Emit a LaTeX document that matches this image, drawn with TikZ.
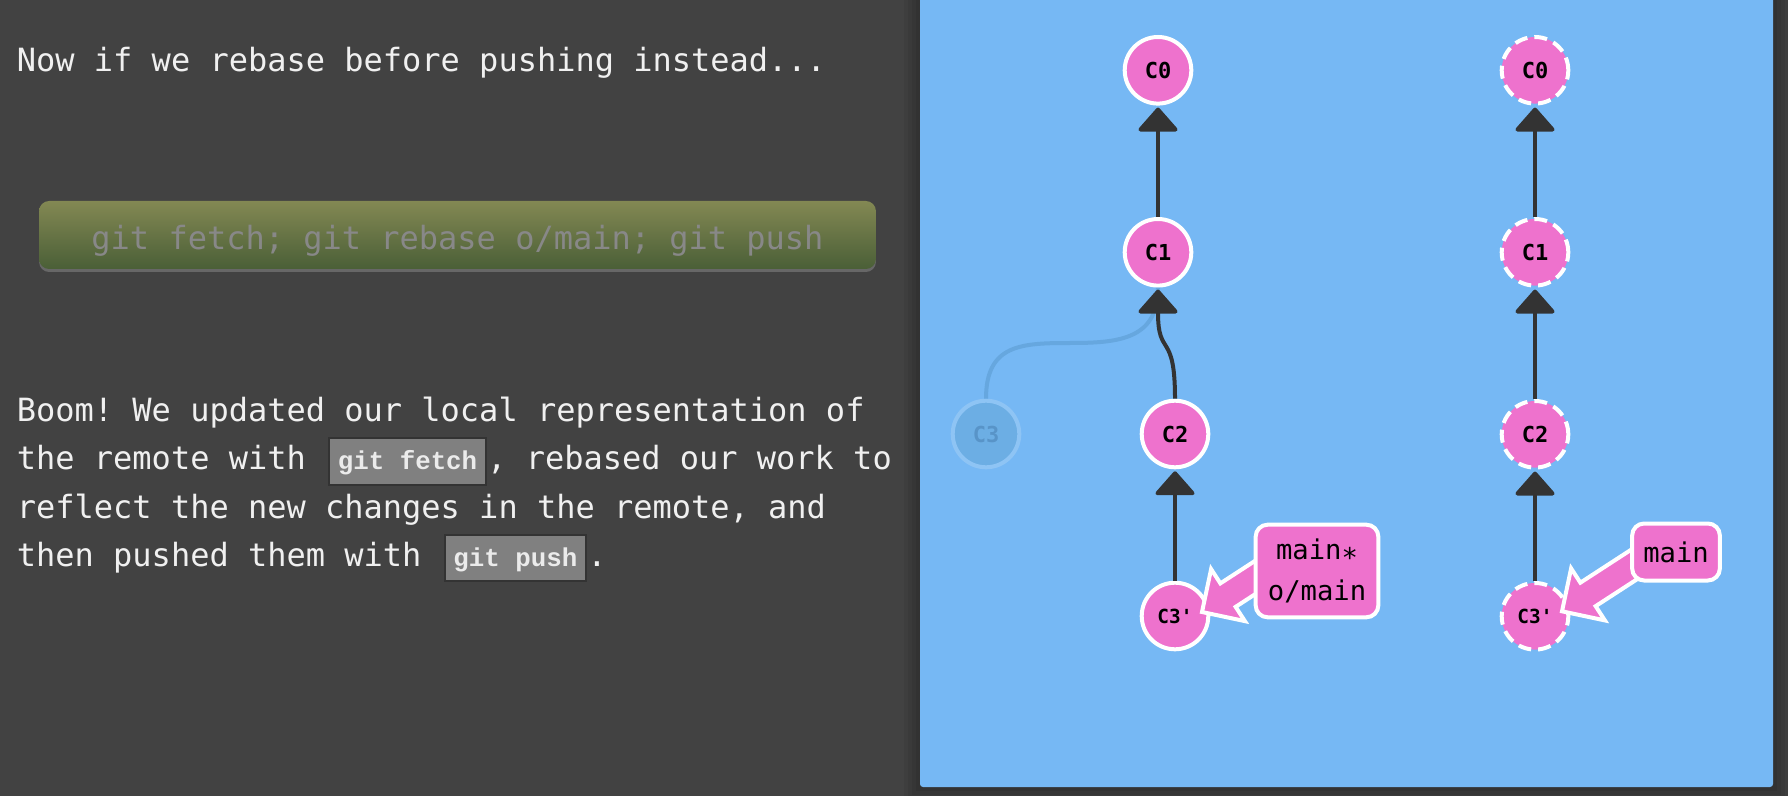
\documentclass[tikz,border=0pt]{standalone}
\usepackage{fontspec}
\setmonofont{DejaVu Sans Mono}
\newfontfamily\codefont{Liberation Mono}
\usepackage{tikz}
\usetikzlibrary{arrows.meta, positioning, shadows}

\definecolor{bgdark}{HTML}{424242}
\definecolor{panelblue}{HTML}{76B8F4}
\definecolor{commitpink}{HTML}{EE72CD}
\definecolor{edgedark}{HTML}{333333}
\definecolor{ghostfill}{HTML}{6CAEE4}
\definecolor{ghostline}{HTML}{8EC4F4}
\definecolor{ghosttext}{HTML}{5894C8}
\definecolor{ghostedge}{HTML}{66A7DF}
\definecolor{btntop}{HTML}{838853}
\definecolor{btnbottom}{HTML}{4A5F37}
\definecolor{btntext}{HTML}{888888}

\begin{document}
\begin{tikzpicture}[x=0.5pt,y=-0.5pt,node distance=91pt,
	font=\ttfamily\fontsize{16}{24}\selectfont,text=white!94!black]
	
	\tikzset{commit/.style={circle, on grid, minimum size=33.3pt, inner sep=0pt,
			fill=commitpink, draw=white, line width=2pt, text=black,
			font=\ttfamily\bfseries\fontsize{11}{11}\selectfont},
		primed/.style={font=\ttfamily\bfseries\fontsize{9.7}{9.7}\selectfont},
		remote/.style={commit, dash pattern=on 6.5pt off 3.5pt},
		ghost/.style={commit, fill=ghostfill, draw=ghostline, text=ghosttext},
		link/.style={color=edgedark, line width=2pt,
			-{Triangle[width=21.5pt,length=12.5pt,round]}, shorten >=1pt},
		branch/.style={rectangle, rounded corners=6pt, fill=commitpink,
			draw=white, line width=2pt, text=black, align=center,
			font=\ttfamily\fontsize{13.6}{20.5}\selectfont},
		pointer/.style={fill=commitpink, draw=white, line width=2pt},
		line/.style={anchor=base west, inner sep=0pt},
		code/.style={anchor=base west, xshift=11pt, fill=gray, draw=edgedark,
			line width=1pt, inner xsep=4.3pt, inner ysep=0pt, text height=15.8pt,
			text depth=7.35pt, text=white!92!black,
			font=\codefont\bfseries\fontsize{12.9}{12.9}\selectfont},
		button/.style={anchor=base, minimum width=418.4pt, inner ysep=0pt,
			text height=24.15pt, text depth=9.85pt, rounded corners=5pt,
			top color=btntop, bottom color=btnbottom, text=btntext,
			drop shadow={shadow xshift=0pt, shadow yshift=-1.5pt, opacity=.6}}}
	
	\useasboundingbox (0,0) rectangle (1788,796);
	\fill[bgdark] (0,0) rectangle (1788,796);
	
	% panel with its shadow
	\foreach \s in {4,8,12,16}
	\fill[black, opacity=0.06] (920-\s,-20) rectangle (1773+\s,787+\s);
	\fill[panelblue, rounded corners=1.5pt] (920,-10) rectangle (1773,787);
	
	% left column text
	\node[line] (intro) at (16.5,71.7) {Now if we rebase before pushing instead...};
	\node[button] (cmd) at (457.5,249.3) {git fetch; git rebase o/main; git push};
	
	\node[line] (p1) at (16.5,421.7) {Boom! We updated our local representation of};
	\node[line] (p2a) at (16.5,470) {the remote with};
	\node[code] (fetch) at (p2a.base east) {git fetch};
	\node[line] (p2b) at (fetch.base east) {, rebased our work to};
	\node[line] (p3) at (16.5,518.3) {reflect the new changes in the remote, and};
	\node[line] (p4a) at (16.5,566.5) {then pushed them with};
	\node[code] (push) at (p4a.base east) {git push};
	\node[line] (p4b) at (push.base east) {.};
	
	% local repository
	\node[commit] (c0L) at (1158,70.3) {C0};
	\node[commit, below=of c0L] (c1L) {C1};
	\node[commit] (c2L) at (1175,434) {C2};
	\node[commit, primed, below=of c2L] (c3pL) {C3'};
	\node[ghost, left=94.5pt of c2L] (c3) {C3};
	
	% remote repository
	\node[remote] (c0R) at (1535,70.3) {C0};
	\node[remote, below=of c0R] (c1R) {C1};
	\node[remote, below=of c1R] (c2R) {C2};
	\node[remote, primed, below=of c2R] (c3pR) {C3'};
	
	\draw[ghostedge, line width=2pt]
	(c3.north) .. controls +(0,-55) and +(-50,0) .. (1072,343)
	.. controls +(50,0) and +(0,50) .. (c1L.south);
	\draw[link] (c2L.north) .. controls +(0,-69) and +(0,71) .. (c1L.south);
	
	\draw[link]
	(c1L) edge (c0L)
	(c3pL) edge (c2L)
	(c1R) edge (c0R)
	(c2R) edge (c1R)
	(c3pR) edge (c2R);
	
	% branch pointers
	\coordinate (tipL) at ([shift={(27,-4)}]c3pL.center);
	\coordinate (tipR) at ([shift={(27,-5)}]c3pR.center);
	\foreach \t in {tipL,tipR}{
		\begin{scope}[shift={(\t)}, rotate=33]
			\draw[pointer] (0,0) -- (31,-31) -- (31,-14) -- (110,-14)
			-- (110,14) -- (31,14) -- (31,31) -- cycle;
		\end{scope}}
	
	\node[branch, minimum width=61.35pt, minimum height=46.3pt] (mainL)
	at (1317,571) {main\raisebox{-0.3em}{*}\\o/main};
	\node[branch, minimum width=43.85pt, minimum height=28.5pt] (mainR)
	at (1676,552) {main};
	
\end{tikzpicture}
\end{document}
